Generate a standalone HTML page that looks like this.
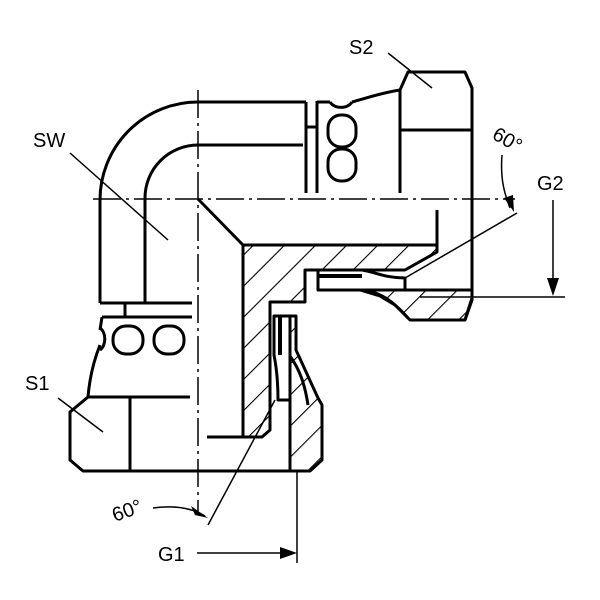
<!DOCTYPE html>
<html><head><style>html,body{margin:0;padding:0;background:#fff}svg{display:block}</style></head>
<body>
<svg width="600" height="600" viewBox="0 0 600 600" xmlns="http://www.w3.org/2000/svg">
<defs>
<pattern id="h" patternUnits="userSpaceOnUse" width="22" height="22" patternTransform="rotate(45)">
<line x1="0" y1="0" x2="0" y2="22" stroke="#000" stroke-width="2.2"/>
</pattern>
</defs>
<g fill="none" stroke="#000" stroke-width="3" stroke-linejoin="round">
<line x1="93" y1="199" x2="515" y2="199" stroke-width="1.5" stroke-dasharray="28,5,3,5"/>
<line x1="198" y1="90" x2="198" y2="515" stroke-width="1.5" stroke-dasharray="28,5,3,5"/>
<path d="M306 102 L198 102 A98 98 0 0 0 100 200 L100 303"/>
<path d="M303 145 L198 145 A53 53 0 0 0 145 198 L145 303"/>
<line x1="100" y1="303" x2="192" y2="303"/>
<line x1="306" y1="102" x2="306" y2="193"/>
<line x1="317" y1="101" x2="317" y2="193"/>
<line x1="306" y1="127" x2="317" y2="127"/>
<path d="M317 102 L330 102 M352 102 C370 97 385 92 400 90"/>
<path d="M330 102 A12 9 0 0 0 352 102"/>
<rect x="328" y="115" width="28" height="32" rx="13"/>
<rect x="328" y="149" width="28" height="32" rx="13"/>
<path d="M400 193 L400 90 L408 72 L465 72 L472 88 L472 298 L465 320 L410 320"/>
<line x1="400" y1="130" x2="472" y2="130"/>
<line x1="125" y1="303" x2="125" y2="317"/>
<line x1="102" y1="317" x2="192" y2="317"/>
<path d="M102 317 L100 330 M100 345 C92 365 89 385 88 397"/>
<path d="M100 328 A8 12 0 0 1 100 350"/>
<rect x="113" y="326" width="30" height="28" rx="13"/>
<rect x="154" y="326" width="30" height="28" rx="13"/>
<path d="M88 397 L190 397 M88 397 L70 412 L70 460 L83 471 L310 471"/>
<line x1="130" y1="397" x2="130" y2="471"/>
<line x1="198" y1="199" x2="243" y2="245"/>
<line x1="437" y1="210" x2="437" y2="245"/>
<polygon points="243,245 437,245 437,252 405,270 305,270 305,302 270,302 270,430 262,437 243,437" fill="url(#h)"/>
<line x1="207" y1="437" x2="245" y2="437"/>
<path d="M318 270 L362 270 C375 272 385 278 405 278 L405 290 L318 290 Z" fill="#fff"/>
<path d="M318 276 L362 276" stroke-width="4"/>
<polygon points="360,290 472,290 472,300 465,320 410,320 395,305 380,296" fill="url(#h)"/>
<path d="M362 290 C380 292 392 300 408 318"/>
<path d="M274 316 L290 316 L290 400 L278 400 C278 380 276 365 274 355 Z" fill="#fff"/>
<path d="M280 316 L280 355" stroke-width="4"/>
<polygon points="290,316 296,316 296,350 318,398 322,405 322,460 310,471 290,471" fill="url(#h)"/>
<path d="M290 356 C300 370 305 385 308 405"/>
<g stroke-width="1.5">
<line x1="388" y1="53" x2="432" y2="88"/>
<line x1="70" y1="153" x2="168" y2="240"/>
<line x1="58" y1="398" x2="103" y2="432"/>
<line x1="517" y1="213" x2="405" y2="278"/>
<path d="M502 155 C500 180 505 195 510 208"/>
<line x1="208" y1="525" x2="275" y2="400"/>
<path d="M153 508 C175 505 192 508 205 516"/>
<line x1="553" y1="200" x2="553" y2="290"/>
<line x1="420" y1="297" x2="565" y2="297"/>
<line x1="297" y1="470" x2="297" y2="563"/>
<line x1="197" y1="553" x2="290" y2="553"/>
</g>
</g>
<g fill="#000">
<polygon points="504,198 513,195 514,212"/>
<polygon points="191,506 195,515 208,518"/>
<polygon points="547,278 559,278 553,296"/>
<polygon points="280,547 280,559 297,553"/>
</g>
<g font-family="Liberation Sans, sans-serif" font-size="20" fill="#000">
<text x="349" y="54">S2</text>
<text x="33" y="147">SW</text>
<text x="25" y="390">S1</text>
<text x="537" y="190">G2</text>
<text x="158" y="561">G1</text>
<text x="0" y="0" transform="translate(491,138) rotate(30)">60°</text>
<text x="0" y="0" transform="translate(115,522) rotate(-20)">60°</text>
</g>
</svg>
</body></html>
